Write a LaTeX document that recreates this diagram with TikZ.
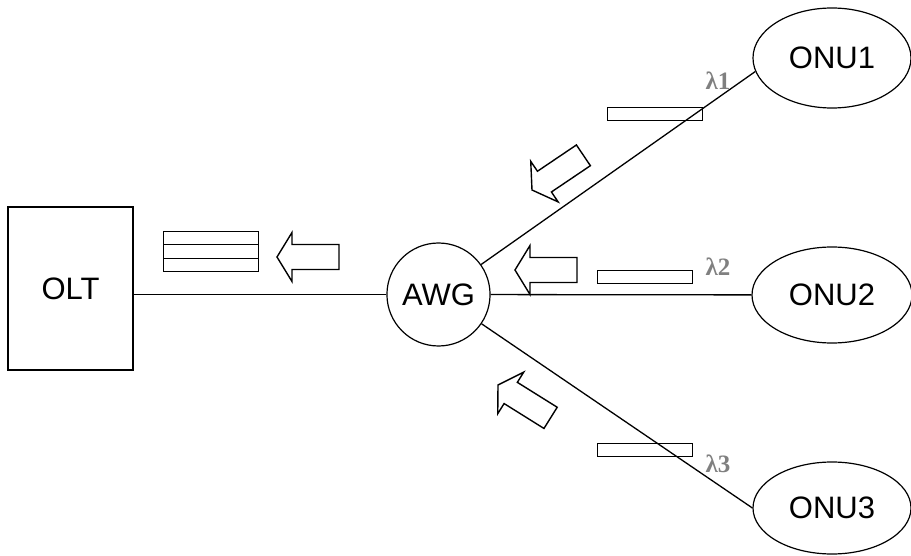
\documentclass[tikz,border=0pt]{standalone}
\usepackage{fontspec}
\setmainfont{Liberation Sans}
\newfontfamily\lamfont{Liberation Serif}
\usetikzlibrary{shapes.geometric}

\tikzset{
  unit/.style={draw, line width=1.2pt, inner sep=0pt,
    font=\fontsize{31}{36}\selectfont},
  box/.style={unit, rectangle},
  oval/.style={unit, ellipse},
  fiber/.style={line width=1.3pt},
  frame/.style={draw, rectangle, line width=0.9pt, inner sep=0pt,
    minimum width=95pt, minimum height=13pt},
  lam/.style={text=black!50, inner sep=0pt,
    font=\lamfont\bfseries\fontsize{25}{27}\selectfont},
  arrowline/.style={draw, line width=1.4pt, line join=miter, fill=white}
}

% block arrow pointing left, tip at the local origin
\newcommand{\drawblockarrow}{%
  \path[arrowline] (0,0) -- (15,-24.5) -- (15,-12.5) -- (62,-12.5)
    -- (62,12.5) -- (15,12.5) -- (15,24.5) -- cycle;}

\begin{document}
\begin{tikzpicture}[x=1pt, y=-1pt]
  \useasboundingbox (0,0) rectangle (911,556);

  % network elements
  \node[box, minimum width=125pt, minimum height=163pt] (olt) at (70.5,288.5) {OLT};
  \node[oval, minimum width=93pt, minimum height=103pt] (awg) at (438.5,294.5) {AWG};
  \node[oval, minimum width=158pt, minimum height=100pt] (onu1) at (832,58) {ONU1};
  \node[oval, minimum width=160pt, minimum height=96pt] (onu2) at (832,295) {ONU2};
  \node[oval, minimum width=158pt, minimum height=92pt] (onu3) at (832,508) {ONU3};

  % fibres
  \draw[fiber] (awg.west) -- (awg.west -| olt.east);
  \draw[fiber] (awg) -- (onu1.190);
  \draw[fiber] (awg) -- (onu2);
  \draw[fiber] (awg) -- (onu3.west);

  % upstream data frames
  \node[frame] (f1) at (654.5,113.5) {};
  \node[frame] (f2) at (645,276.5) {};
  \node[frame] (f3) at (645,450) {};
  \node[frame] (m1) at (210.5,238) {};
  \node[frame, minimum height=14pt] (m2) at (210.5,251) {};
  \node[frame] (m3) at (210.5,264.5) {};

  % wavelength labels
  \node[lam] (l1) at (718,81) {λ1};
  \node[lam] (l2) at (718,267) {λ2};
  \node[lam] (l3) at (718,464) {λ3};

  % upstream direction arrows
  \begin{scope}[shift={(277,257)}]
    \drawblockarrow
  \end{scope}
  \begin{scope}[shift={(515,270)}]
    \drawblockarrow
  \end{scope}
  \begin{scope}[shift={(532,190)}, rotate=34]
    \drawblockarrow
  \end{scope}
  \begin{scope}[shift={(498,385)}, rotate=-32]
    \drawblockarrow
  \end{scope}
\end{tikzpicture}
\end{document}
